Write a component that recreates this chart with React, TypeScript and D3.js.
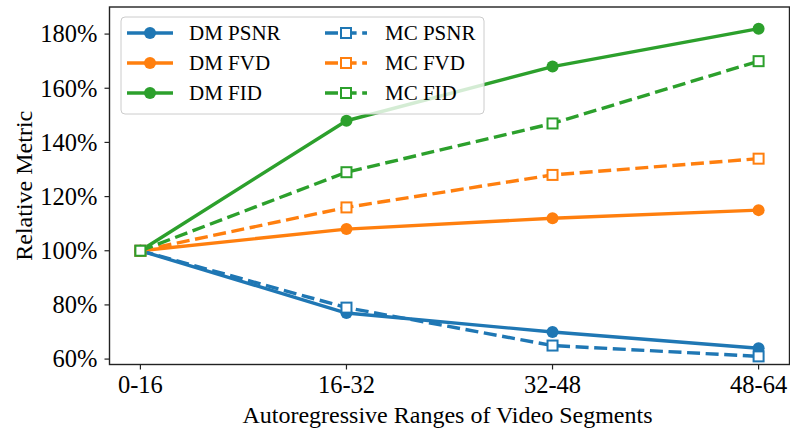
import React from 'react';
import * as d3 from 'd3';

// segment ranges on the x axis
const ranges = ['0-16', '16-32', '32-48', '48-64'];

// relative metric values (%)
const dmPsnr = [100, 77, 70, 64];
const dmFvd = [100, 108, 112, 115];
const dmFid = [100, 148, 168, 182];
const mcPsnr = [100, 79, 65, 61];
const mcFvd = [100, 116, 128, 134];
const mcFid = [100, 129, 147, 170];

const yTicks = [60, 80, 100, 120, 140, 160, 180];

const BLUE = '#1f77b4';
const ORANGE = '#ff7f0e';
const GREEN = '#2ca02c';

const series = [
  { name: 'DM PSNR', values: dmPsnr, color: BLUE, dashed: false },
  { name: 'DM FVD', values: dmFvd, color: ORANGE, dashed: false },
  { name: 'DM FID', values: dmFid, color: GREEN, dashed: false },
  { name: 'MC PSNR', values: mcPsnr, color: BLUE, dashed: true },
  { name: 'MC FVD', values: mcFvd, color: ORANGE, dashed: true },
  { name: 'MC FID', values: mcFid, color: GREEN, dashed: true },
];

const W = 790;
const H = 428;
const FONT = '"Liberation Serif", "Times New Roman", serif';
const LW = 3.4;
const DASH = '13,5.6';

const Marker = ({ x, y, color, dashed }: { x: number; y: number; color: string; dashed: boolean }) =>
  dashed ? (
    <rect x={x - 5} y={y - 5} width={10} height={10} fill="white" stroke={color} strokeWidth={2} />
  ) : (
    <circle cx={x} cy={y} r={6} fill={color} />
  );

export default function App() {
  const x = d3.scaleLinear().domain([-0.15, 3.15]).range([109.5, 789.5]);
  const y = d3.scaleLinear().domain([58, 190]).range([364.5, 7]);

  const line = d3
    .line<number>()
    .x((_, i) => x(i))
    .y((d) => y(d));

  const [x0, x1] = x.range();
  const [y0, y1] = y.range();

  // legend layout
  const lgX = 121;
  const lgY = 17;
  const rowH = 30;
  const cols = [
    { handle: 127, text: 189 },
    { handle: 325, text: 385 },
  ];

  return (
    <svg
      width={W}
      height={H}
      style={{ position: 'absolute', left: 0, top: 0, background: 'white' }}
      fontFamily={FONT}
    >
      {/* data lines */}
      {series.map((s) => (
        <g key={s.name}>
          <path
            d={line(s.values) || ''}
            fill="none"
            stroke={s.color}
            strokeWidth={LW}
            strokeDasharray={s.dashed ? DASH : undefined}
            strokeLinejoin="round"
          />
          {s.values.map((v, i) => (
            <Marker key={i} x={x(i)} y={y(v)} color={s.color} dashed={s.dashed} />
          ))}
        </g>
      ))}

      {/* frame */}
      <rect x={x0} y={y1} width={x1 - x0} height={y0 - y1} fill="none" stroke="#222" strokeWidth={1.4} />

      {/* y axis */}
      {yTicks.map((t) => (
        <g key={t} transform={`translate(0,${y(t)})`}>
          <line x1={x0 - 5} x2={x0} stroke="#222" strokeWidth={1.2} />
          <text x={x0 - 12} dy="0.34em" textAnchor="end" fontSize={24.5} fill="#000">
            {t}%
          </text>
        </g>
      ))}

      {/* x axis */}
      {ranges.map((r, i) => (
        <g key={r} transform={`translate(${x(i)},0)`}>
          <line y1={y0} y2={y0 + 5} stroke="#222" strokeWidth={1.2} />
          <text y={393} textAnchor="middle" fontSize={24.5} fill="#000">
            {r}
          </text>
        </g>
      ))}

      <text x={(x0 + x1) / 2 - 2} y={423} textAnchor="middle" fontSize={24} fill="#000">
        Autoregressive Ranges of Video Segments
      </text>
      <text
        transform={`translate(32,${(y0 + y1) / 2}) rotate(-90)`}
        textAnchor="middle"
        fontSize={24}
        fill="#000"
      >
        Relative Metric
      </text>

      {/* legend */}
      <rect
        x={lgX}
        y={lgY}
        width={363}
        height={97}
        rx={4}
        fill="white"
        fillOpacity={0.8}
        stroke="#cccccc"
        strokeWidth={1}
      />
      {series.map((s, k) => {
        const col = cols[Math.floor(k / 3)];
        const cy = 33 + (k % 3) * rowH;
        const hx = col.handle;
        const hw = s.dashed ? 42 : 46;
        return (
          <g key={s.name}>
            <line
              x1={hx}
              x2={hx + hw}
              y1={cy}
              y2={cy}
              stroke={s.color}
              strokeWidth={LW}
              strokeDasharray={s.dashed ? DASH : undefined}
            />
            <Marker x={hx + hw / 2} y={cy} color={s.color} dashed={s.dashed} />
            <text x={col.text} y={cy} dy="0.34em" fontSize={21} fill="#000">
              {s.name}
            </text>
          </g>
        );
      })}
    </svg>
  );
}
